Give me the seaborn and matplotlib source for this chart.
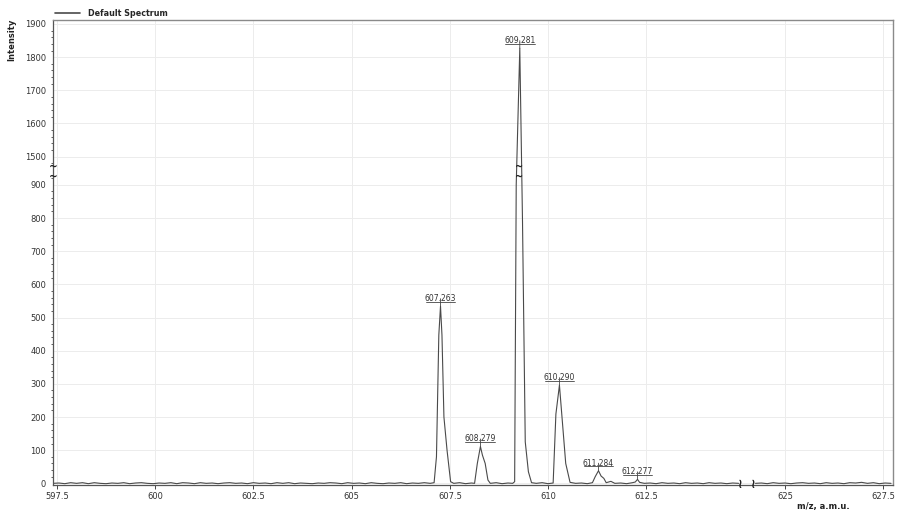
import numpy as np
import pandas as pd
import matplotlib
matplotlib.use("Agg")
import matplotlib.pyplot as plt
import matplotlib.transforms as mtransforms
from matplotlib.ticker import FixedLocator
import seaborn as sns

# spectrum, left part (597.4 - 614.9)
left_mz = [597.40, 597.55, 597.70, 597.85, 598.00, 598.15, 598.30, 598.45, 598.60, 598.75,
           598.90, 599.05, 599.20, 599.35, 599.50, 599.65, 599.80, 599.95, 600.10, 600.25,
           600.40, 600.55, 600.70, 600.85, 601.00, 601.15, 601.30, 601.45, 601.60, 601.75,
           601.90, 602.05, 602.20, 602.35, 602.50, 602.65, 602.80, 602.95, 603.10, 603.25,
           603.40, 603.55, 603.70, 603.85, 604.00, 604.15, 604.30, 604.45, 604.60, 604.75,
           604.90, 605.05, 605.20, 605.35, 605.50, 605.65, 605.80, 605.95, 606.10, 606.25,
           606.40, 606.55, 606.70, 606.85, 607.00,
           607.10, 607.16, 607.22, 607.263, 607.30, 607.35, 607.43, 607.52, 607.60,
           607.75, 607.90, 608.05, 608.13, 608.20, 608.279, 608.33, 608.40, 608.47, 608.53,
           608.68, 608.83, 608.98, 609.10, 609.15, 609.19, 609.281, 609.35, 609.42, 609.50, 609.58,
           609.70, 609.85, 610.00, 610.13, 610.20, 610.290, 610.35, 610.45, 610.56,
           610.70, 610.85, 611.00, 611.13, 611.20, 611.284, 611.35, 611.42, 611.48, 611.60,
           611.70, 611.85, 612.00, 612.15, 612.22, 612.277, 612.33, 612.45,
           612.60, 612.75, 612.90, 613.05, 613.20, 613.35, 613.50, 613.65, 613.80, 613.95,
           614.10, 614.25, 614.40, 614.55, 614.70, 614.85]
left_int = [0, 1, -1, 2, 0, 2, -1, 2, 0, -1,
            1, 0, 2, -1, 1, 2, 0, -1, 1, 0,
            2, -1, 2, 1, -1, 2, 0, 1, -1, 1,
            2, 0, 1, -1, 2, 0, 1, -1, 2, 0,
            2, -1, 1, 0, -1, 1, 0, 2, 1, -1,
            2, 0, 1, -1, 2, 0, -1, 1, 0, 2,
            -1, 1, 0, 2, 0,
            2, 80, 447, 534, 447, 200, 99, 5, 0,
            2, -1, 1, 0, 60, 111, 85, 60, 10, 0,
            2, -1, 1, 0, 5, 900, 1827, 790, 125, 35, 2,
            0, 2, -1, 1, 209, 296, 209, 60, 3,
            0, 1, -1, 2, 20, 38, 22, 15, 2, 6,
            0, 1, -1, 2, 4, 12, 3, 0,
            1, -1, 2, 0, 1, -1, 2, 0, 1, -1,
            2, 0, 1, -1, 1, 0]

# spectrum, right part (624.2 - 627.75)
right_mz = [624.25, 624.40, 624.55, 624.70, 624.85, 625.00, 625.15, 625.30, 625.45, 625.60,
            625.75, 625.90, 626.05, 626.20, 626.35, 626.50, 626.65, 626.80, 626.95, 627.10,
            627.25, 627.40, 627.55, 627.70]
right_int = [0, 1, -1, 2, 0, 1, -1, 1, 2, 0,
             1, -1, 2, 0, 1, -1, 2, 1, 3, 0,
             2, -1, 1, 0]

peak_mz = [607.263, 608.279, 609.281, 610.290, 611.284, 612.277]
peak_int = [534, 111, 1827, 296, 38, 12]
peak_labels = ["607.263", "608.279", "609.281", "610.290", "611.284", "612.277"]

x_ticks = [597.5, 600, 602.5, 605, 607.5, 610, 612.5, 625, 627.5]
x_tick_labels = ["597.5", "600", "602.5", "605", "607.5", "610", "612.5", "625", "627.5"]
y_ticks = [0, 100, 200, 300, 400, 500, 600, 700, 800, 900, 1500, 1600, 1700, 1800, 1900]

# broken axes
Y_LO, Y_HI, Y_GAP = 924, 1469, 30
X_LO, X_HI, X_GAP = 614.9, 624.2, 0.33


def y_fwd(v):
    v = np.asarray(v, dtype=float)
    return np.where(v <= Y_LO, v,
                    np.where(v >= Y_HI, v - Y_HI + Y_LO + Y_GAP,
                             Y_LO + (v - Y_LO) * Y_GAP / (Y_HI - Y_LO)))


def y_inv(v):
    v = np.asarray(v, dtype=float)
    return np.where(v <= Y_LO, v,
                    np.where(v >= Y_LO + Y_GAP, v - Y_LO - Y_GAP + Y_HI,
                             Y_LO + (v - Y_LO) * (Y_HI - Y_LO) / Y_GAP))


def x_fwd(v):
    v = np.asarray(v, dtype=float)
    return np.where(v <= X_LO, v,
                    np.where(v >= X_HI, v - X_HI + X_LO + X_GAP,
                             X_LO + (v - X_LO) * X_GAP / (X_HI - X_LO)))


def x_inv(v):
    v = np.asarray(v, dtype=float)
    return np.where(v <= X_LO, v,
                    np.where(v >= X_LO + X_GAP, v - X_LO - X_GAP + X_HI,
                             X_LO + (v - X_LO) * (X_HI - X_LO) / X_GAP))


sns.set_style("white")
plt.rcParams["font.family"] = ["DejaVu Sans"]

left = pd.DataFrame({"mz": left_mz, "intensity": left_int})
right = pd.DataFrame({"mz": right_mz, "intensity": right_int})

fig = plt.figure(figsize=(8.98, 5.17), dpi=100)
ax = fig.add_axes([53 / 898, 1 - 485 / 517, 840 / 898, 465 / 517])

line_col = "#4a4a4a"
sns.lineplot(data=left, x="mz", y="intensity", ax=ax, color=line_col, lw=0.8,
             estimator=None, sort=False, label="Default Spectrum")
sns.lineplot(data=right, x="mz", y="intensity", ax=ax, color=line_col, lw=0.8,
             estimator=None, sort=False, legend=False)

ax.set_xscale("function", functions=(x_fwd, x_inv))
ax.set_yscale("function", functions=(y_fwd, y_inv))
ax.set_xlim(597.4, 627.75)
ax.set_ylim(-5, 1912)

ax.xaxis.set_major_locator(FixedLocator(x_ticks))
ax.set_xticklabels(x_tick_labels)
ax.xaxis.set_minor_locator(FixedLocator([]))
ax.yaxis.set_major_locator(FixedLocator(y_ticks))
ax.set_yticklabels([str(t) for t in y_ticks])
minor_y = [v for v in range(0, 921, 20) if v % 100] + [v for v in range(1480, 1901, 20) if v % 100]
ax.yaxis.set_minor_locator(FixedLocator(minor_y))

ax.grid(True, which="major", color="#ececec", lw=0.7)
ax.set_axisbelow(True)
ax.tick_params(axis="both", which="major", length=3, width=0.7, color="#444444",
               labelsize=6, labelcolor="#333333", pad=2)
ax.tick_params(axis="y", which="minor", length=1.8, width=0.6, color="#444444", left=True)
ax.tick_params(axis="x", which="major", bottom=True)
ax.set_xlabel("")
ax.set_ylabel("")

for s in ["left", "bottom"]:
    ax.spines[s].set_color("#555555")
    ax.spines[s].set_linewidth(0.9)
for s in ["top", "right"]:
    ax.spines[s].set_color("#8a8a8a")
    ax.spines[s].set_linewidth(1.0)

# break marks
blend_y = mtransforms.blended_transform_factory(ax.transAxes, ax.transData)
for yb in [1466, 930]:
    ax.text(0, yb, "~", transform=blend_y, ha="center", va="center",
            fontsize=7.5, fontweight="bold", color="#222222")
    ax.text(609.255, yb, "~", ha="center", va="center",
            fontsize=7, fontweight="bold", color="#222222")
blend_x = mtransforms.blended_transform_factory(ax.transData, ax.transAxes)
for xb in [X_LO, X_HI]:
    ax.text(xb, 0.0, "\u2240", transform=blend_x, ha="center", va="center",
            fontsize=9, fontweight="bold", color="#222222")

# peak labels, underlined
under = ax.transData + mtransforms.ScaledTranslation(0, 3.2 / 72, fig.dpi_scale_trans)
for mz, it, lab in zip(peak_mz, peak_int, peak_labels):
    ax.annotate(lab, xy=(mz, it), xytext=(0, 2.2), textcoords="offset points",
                ha="center", va="bottom", fontsize=5.5, color="#333333",
                arrowprops=dict(arrowstyle="-", lw=0.6, color="#444444",
                                shrinkA=0, shrinkB=0))
    ax.plot([mz - 0.38, mz + 0.38], [it, it], transform=under, color="#444444", lw=0.6)

leg = ax.legend(loc="lower left", bbox_to_anchor=(0.0, 1.0), frameon=False,
                handlelength=3.0, handletextpad=1.1, borderaxespad=0.2, borderpad=0.1,
                prop={"size": 5.8, "weight": "bold"})
for h in leg.get_lines():
    h.set_linewidth(1.2)

fig.text(12 / 898, 1 - 40 / 517, "Intensity", rotation=90, ha="center", va="center",
         fontsize=6, fontweight="bold", color="#222222")
fig.text(823 / 898, 1 - 507 / 517, "m/z, a.m.u.", ha="center", va="center",
         fontsize=6, fontweight="bold", color="#222222")

fig.savefig("out.png", dpi=100)
